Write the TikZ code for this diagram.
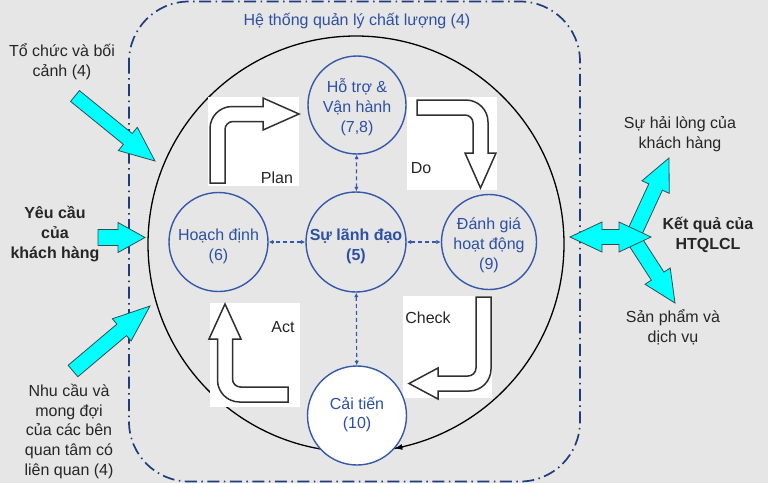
\documentclass[tikz,border=0pt]{standalone}
\usepackage{fontspec}
\setmainfont{Liberation Sans}
\usetikzlibrary{arrows.meta,calc}
\definecolor{bg}{HTML}{E6E6E6}
\definecolor{navy}{HTML}{1F3D7C}
\definecolor{cblue}{HTML}{3558A8}
\definecolor{tblue}{HTML}{2D50A2}
\definecolor{txt}{HTML}{262626}
\definecolor{cy}{HTML}{00FFFF}
\definecolor{cyline}{HTML}{2F4F55}
\definecolor{aline}{HTML}{303030}
\newcommand\cyarr[5]{%
  \coordinate (cyB) at ($(#2)!#5!(#1)$);
  \draw[cyshape] (#2) -- ($(cyB)!#4!90:(#2)$) -- ($(cyB)!#3!90:(#2)$)
    -- ($(#1)!#3!90:(#2)$) -- ($(#1)!#3!-90:(#2)$)
    -- ($(cyB)!#3!-90:(#2)$) -- ($(cyB)!#4!-90:(#2)$) -- cycle;}
\tikzset{
  fs/.style={font=\fontsize{16}{19.8}\selectfont},
  bfs/.style={font=\fontsize{16}{19.8}\selectfont\bfseries},
  bc/.style={circle, draw=cblue, line width=1.4pt, minimum size=#1, inner sep=0pt},
  lt/.style={fs, text=tblue, align=center, inner sep=0pt},
  ot/.style={fs, text=txt, align=center, inner sep=0pt},
  conn/.style={draw=cblue, line width=1.2pt, dash pattern=on 4pt off 3pt, <->, >={Latex[length=4.5pt,width=4.5pt]}},
  barrow/.style={fill=white, draw=aline, line width=1.5pt},
  wbox/.style={fill=white, draw=none},
  cyshape/.style={fill=cy, draw=cyline, line width=0.8pt, line join=miter},
}
\begin{document}
\begin{tikzpicture}[x=1pt,y=-1pt]
\fill[bg] (0,0) rectangle (768,483);
\useasboundingbox (0,0) rectangle (768,483);
% system boundary
\draw[navy, line width=1.7pt, dash pattern=on 12pt off 4.5pt on 1.5pt off 4.5pt, rounded corners=60pt] (129,1.5) rectangle (580,481.5);
\node[lt] (title) at (357,21) {Hệ thống quản lý chất lượng (4)};
% big circle
\node[circle, draw=black, line width=1.3pt, minimum size=416pt, inner sep=0pt] (big) at (356,244) {};
% white boxes
\fill[wbox] (208,97) rectangle (299,186);
\fill[wbox] (407,97) rectangle (497,190);
\fill[wbox] (403,296) rectangle (492,398);
\fill[wbox] (210,303) rectangle (300,407);
% Plan arrow
\draw[barrow] (210,183) -- (210,128.5) .. controls (210,116.35) and (219.85,106.5) .. (232,106.5)
  -- (263,106.5) -- (263,98) -- (299,114) -- (263,130) -- (263,121.5) -- (233,121.5)
  .. controls (228.58,121.5) and (225,125.08) .. (225,129.5) -- (225,183) -- cycle;
% Do arrow
\draw[barrow] (417,100) -- (466,100) .. controls (478.15,100) and (488,109.85) .. (488,122)
  -- (488,153) -- (496,153) -- (480.5,188) -- (465,153) -- (473,153) -- (473,123)
  .. controls (473,118.58) and (469.42,115) .. (465,115) -- (417,115) -- cycle;
% Check arrow
\draw[barrow] (476,297) -- (491,297) -- (491,369) .. controls (491,381.15) and (481.15,391) .. (469,391)
  -- (438,391) -- (438,399) -- (409,383.5) -- (438,368) -- (438,376) -- (468,376)
  .. controls (472.42,376) and (476,372.42) .. (476,368) -- cycle;
% Act arrow
\draw[barrow] (288,387) -- (240.5,387) .. controls (236.08,387) and (232.5,383.42) .. (232.5,379)
  -- (232.5,339) -- (241,339) -- (225,304) -- (209,339) -- (217.5,339) -- (217.5,380)
  .. controls (217.5,392.15) and (227.35,402) .. (239.5,402) -- (288,402) -- cycle;
\node[ot] (plan) at (277,178) {Plan};
\node[ot] (do) at (421,168) {Do};
\node[ot] (check) at (428,318) {Check};
\node[ot] (act) at (283,327) {Act};
% circles
\node[bc=98pt] (hotro) at (357,105) {};
\node[bc=100pt] (lead) at (356,242) {};
\node[bc=99pt] (hoach) at (218.5,242) {};
\node[bc=95pt] (danhgia) at (489,242) {};
\node[bc=99pt, fill=white] (caitien) at (357,415.5) {};
\node[lt] (hotroT) at (357,107) {Hỗ trợ \&\\Vận hành\\(7,8)};
\node[lt, bfs] (leadT) at (356,246) {Sự lãnh đạo\\(5)};
\node[lt] (hoachT) at (218.5,246.5) {Hoạch định\\(6)};
\node[lt] (danhgiaT) at (489,245.5) {Đánh giá\\hoạt động\\(9)};
\node[lt] (caitienT) at (357,414.5) {Cải tiến\\(10)};
% arrow on the big circle
\coordinate (bigA) at (403.2,446.8);
\coordinate (bigB) at (394.3,448.4);
\draw[black, line width=1.3pt, -{Latex[length=8pt,width=6pt]}] (bigA) -- (bigB);
% dashed connectors
\draw[conn] (lead) -- (hotro);
\draw[conn] (lead) -- (hoach);
\draw[conn] (lead) -- (danhgia);
\draw[conn] (lead) -- (caitien);
% left inputs
\coordinate (a1t) at (75,96);   \coordinate (a1h) at (155,161);
\coordinate (a2t) at (98,237.5); \coordinate (a2h) at (145,237.5);
\coordinate (a3t) at (73,371);  \coordinate (a3h) at (150,306);
\cyarr{a1t}{a1h}{7pt}{15pt}{35pt}
\cyarr{a2t}{a2h}{8pt}{15pt}{27pt}
\cyarr{a3t}{a3h}{7.5pt}{14.5pt}{37pt}
% right outputs
\coordinate (r1t) at (633,236); \coordinate (r1h) at (669,158);
\coordinate (r2t) at (633,238); \coordinate (r2h) at (675,303);
\cyarr{r1t}{r1h}{7.5pt}{15pt}{32pt}
\cyarr{r2t}{r2h}{7.5pt}{15pt}{32pt}
\draw[cyshape] (570,237) -- (602,222) -- (602,229.5) -- (619,229.5) -- (619,222) -- (651,237)
  -- (619,252) -- (619,244.5) -- (602,244.5) -- (602,252) -- cycle;
% outside texts
\node[ot] (t1) at (62,61.5) {Tổ chức và bối\\cảnh (4)};
\node[ot, bfs] (t2) at (55,234) {Yêu cầu\\của\\khách hàng};
\node[ot] (t3) at (69,431.5) {Nhu cầu và\\mong đợi\\của các bên\\quan tâm có\\liên quan (4)};
\node[ot] (t4) at (680,134.5) {Sự hải lòng của\\khách hàng};
\node[ot, bfs] (t5) at (708,235) {Kết quả của\\HTQLCL};
\node[ot] (t6) at (673,327.5) {Sản phẩm và\\dịch vụ};
\end{tikzpicture}
\end{document}
